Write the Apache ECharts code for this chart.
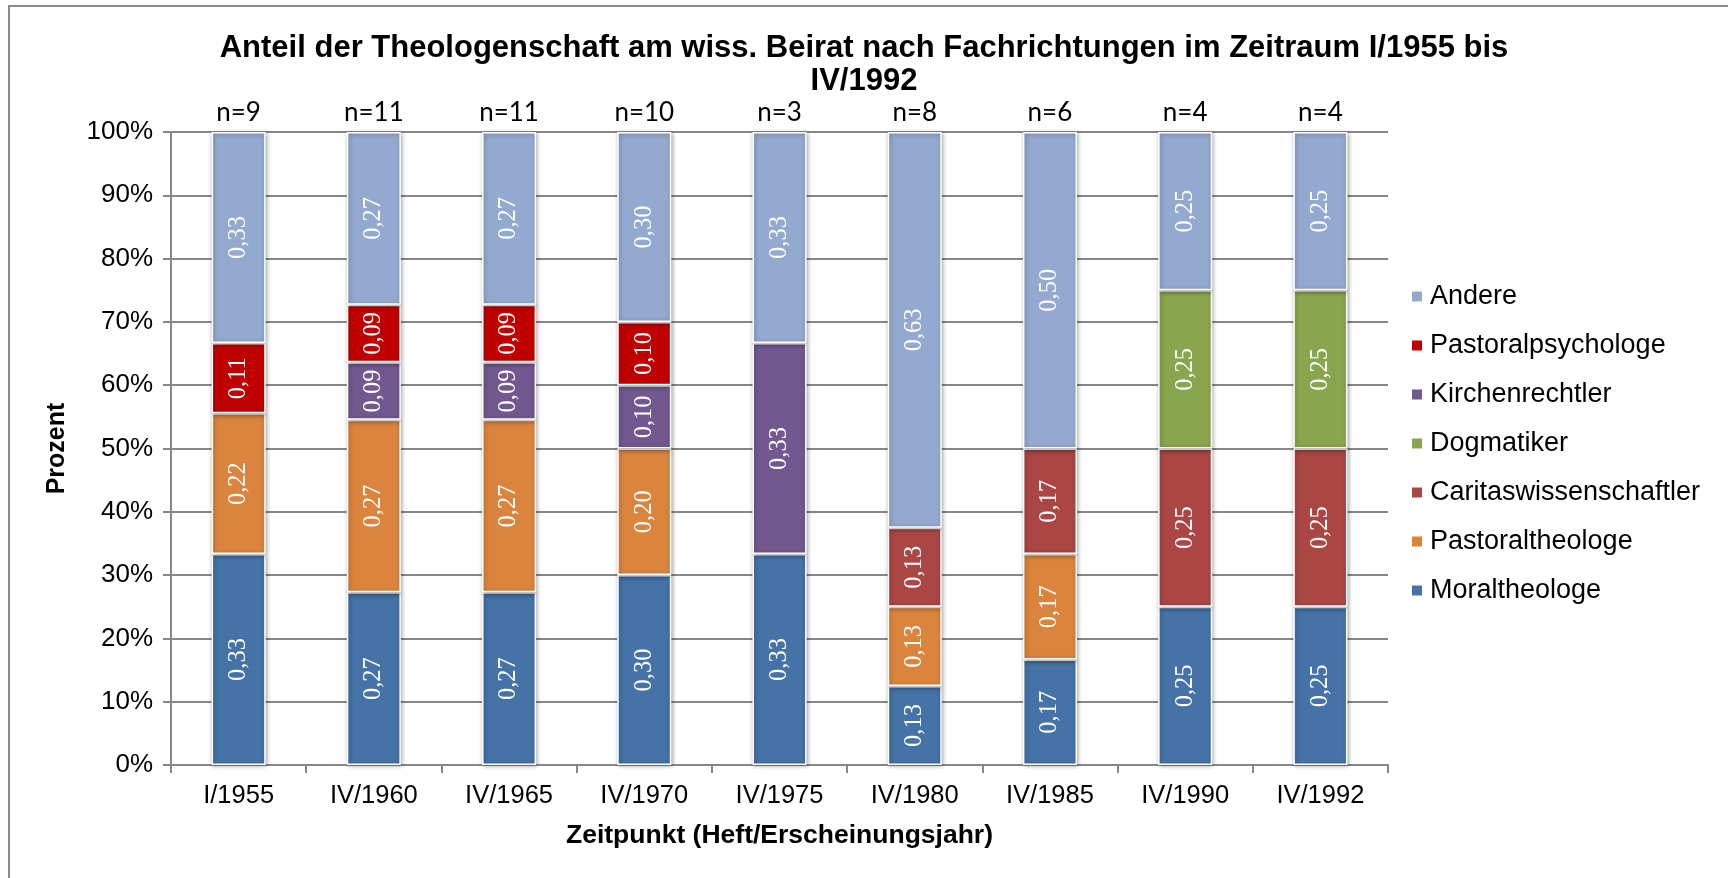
<!DOCTYPE html>
<html>
<head>
<meta charset="utf-8">
<script src="https://cdn.jsdelivr.net/npm/echarts@6/dist/echarts.min.js"></script>
<style>
  html, body { margin: 0; padding: 0; background: #fff; }
  #chart { width: 1728px; height: 878px; }
</style>
</head>
<body>
<div id="chart"></div>
<script>
// Zeitpunkte (Heft/Erscheinungsjahr) und Beiratsgröße
const categories = ['I/1955', 'IV/1960', 'IV/1965', 'IV/1970', 'IV/1975', 'IV/1980', 'IV/1985', 'IV/1990', 'IV/1992'];
const totals = [9, 11, 11, 10, 3, 8, 6, 4, 4];

const moraltheologe          = [3, 3, 3, 3, 1, 1, 1, 1, 1];
const pastoraltheologe       = [2, 3, 3, 2, 0, 1, 1, 0, 0];
const caritaswissenschaftler = [0, 0, 0, 0, 0, 1, 1, 1, 1];
const dogmatiker             = [0, 0, 0, 0, 0, 0, 0, 1, 1];
const kirchenrechtler        = [0, 1, 1, 1, 1, 0, 0, 0, 0];
const pastoralpsychologe     = [1, 1, 1, 1, 0, 0, 0, 0, 0];
const andere                 = [3, 3, 3, 3, 1, 5, 3, 1, 1];

const yTicks = [0, 0.1, 0.2, 0.3, 0.4, 0.5, 0.6, 0.7, 0.8, 0.9, 1];

const groups = [
  { name: 'Moraltheologe', data: moraltheologe, color: '#4572A7' },
  { name: 'Pastoraltheologe', data: pastoraltheologe, color: '#DB843D' },
  { name: 'Caritaswissenschaftler', data: caritaswissenschaftler, color: '#AA4643' },
  { name: 'Dogmatiker', data: dogmatiker, color: '#89A54E' },
  { name: 'Kirchenrechtler', data: kirchenrechtler, color: '#71588F' },
  { name: 'Pastoralpsychologe', data: pastoralpsychologe, color: '#C00000' },
  { name: 'Andere', data: andere, color: '#93A9CF' }
];

const chart = echarts.init(document.getElementById('chart'));

const series = groups.map(g => ({
  name: g.name,
  type: 'bar',
  stack: 'total',
  barWidth: '40%',
  data: g.data.map((c, i) => c === 0 ? '-' : c / totals[i]),
  itemStyle: {
    color: g.color,
    borderColor: '#fff',
    borderWidth: 1.5,
    shadowBlur: 4,
    shadowOffsetX: 1,
    shadowOffsetY: 1,
    shadowColor: 'rgba(0,0,0,0.35)'
  },
  label: {
    show: true,
    position: 'inside',
    rotate: 90,
    color: '#fff',
    fontFamily: 'Liberation Serif',
    fontSize: 24.5,
    formatter: p => p.value.toFixed(2).replace('.', ',')
  }
}));

// n= Beschriftung über jeder Säule
series.push({
  name: 'n',
  type: 'bar',
  stack: 'total',
  barWidth: '40%',
  data: totals.map(() => 0),
  itemStyle: { color: 'transparent', borderWidth: 0 },
  label: {
    show: true,
    position: 'top',
    distance: 6,
    color: '#000',
    fontFamily: 'Lato',
    fontSize: 26,
    formatter: p => 'n=' + totals[p.dataIndex]
  },
  silent: true
});

const option = {
  animation: false,
  backgroundColor: '#fff',
  title: {
    text: 'Anteil der Theologenschaft am wiss. Beirat nach Fachrichtungen im Zeitraum I/1955 bis\nIV/1992',
    left: 'center',
    top: 27,
    textStyle: {
      fontFamily: 'Liberation Sans',
      fontWeight: 'bold',
      fontSize: 31,
      lineHeight: 33,
      color: '#000'
    }
  },
  legend: {
    orient: 'vertical',
    left: 1405,
    top: 278,
    itemWidth: 12,
    itemHeight: 12,
    itemGap: 22,
    icon: 'rect',
    data: groups.map(g => g.name).reverse(),
    textStyle: {
      fontFamily: 'Liberation Sans',
      fontSize: 27,
      lineHeight: 26,
      color: '#000',
      padding: [0, 0, 0, 2]
    }
  },
  graphic: [{
    type: 'rect',
    shape: { x: 9, y: 6, width: 1760, height: 900 },
    style: { fill: 'none', stroke: '#8c8c8c', lineWidth: 2 },
    silent: true
  }],
  grid: { left: 171, right: 340, top: 132, bottom: 113 },
  xAxis: {
    type: 'category',
    data: categories,
    name: 'Zeitpunkt (Heft/Erscheinungsjahr)',
    nameLocation: 'middle',
    nameGap: 57,
    nameTextStyle: { fontFamily: 'Liberation Sans', fontWeight: 'bold', fontSize: 26.5, color: '#000' },
    axisLine: { lineStyle: { color: '#878787', width: 2 } },
    axisTick: { show: true, length: 8, lineStyle: { color: '#878787', width: 2 } },
    axisLabel: { margin: 18, fontFamily: 'Liberation Sans', fontSize: 25.5, color: '#000' }
  },
  yAxis: {
    type: 'value',
    min: yTicks[0],
    max: yTicks[yTicks.length - 1],
    interval: 0.1,
    name: 'Prozent',
    nameLocation: 'middle',
    nameGap: 101,
    nameTextStyle: { fontFamily: 'Liberation Sans', fontWeight: 'bold', fontSize: 25, color: '#000' },
    axisLine: { show: true, lineStyle: { color: '#878787', width: 2 } },
    axisTick: { show: true, length: 8, lineStyle: { color: '#878787', width: 2 } },
    splitLine: { lineStyle: { color: '#878787', width: 2 } },
    axisLabel: {
      margin: 18,
      fontFamily: 'Liberation Sans',
      fontSize: 26,
      color: '#000',
      formatter: v => Math.round(v * 100) + '%'
    }
  },
  series: series
};

chart.setOption(option);
</script>
</body>
</html>
